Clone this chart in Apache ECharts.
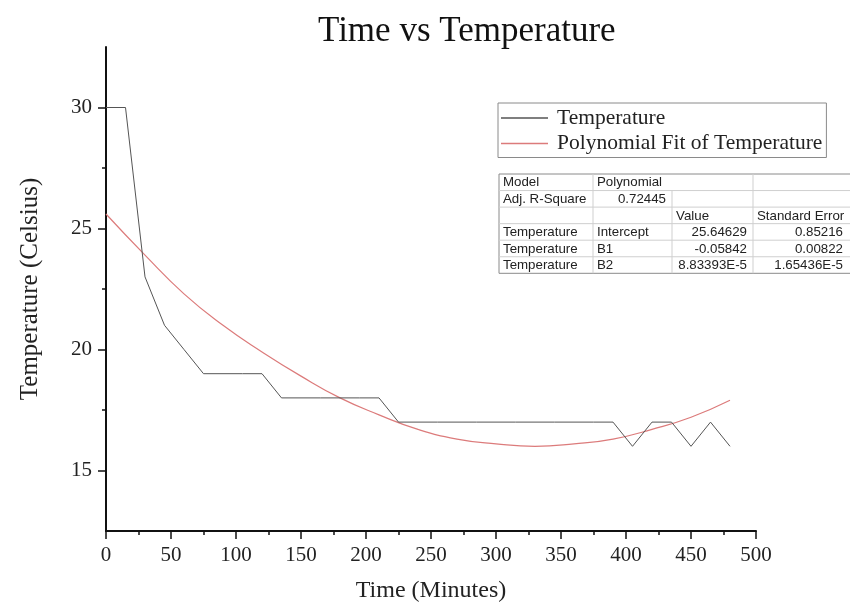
<!DOCTYPE html>
<html>
<head>
<meta charset="utf-8">
<script src="https://cdn.jsdelivr.net/npm/echarts@6/dist/echarts.min.js"></script>
<style>
  html, body { margin: 0; padding: 0; background: #fff; }
  #main { width: 850px; height: 609px; }
</style>
</head>
<body>
<div id="main"></div>
<script>
// measured data: time (minutes) and temperature (celsius)
var timeMin = [0, 15, 30, 45, 60, 75, 90, 105, 120, 135, 150, 165, 180, 195, 210, 225,
               240, 255, 270, 285, 300, 315, 330, 345, 360, 375, 390, 405, 420, 435, 450, 465, 480];
var tempC = [30, 30, 23, 21, 20, 19, 19, 19, 19, 18, 18, 18, 18, 18, 18, 17,
             17, 17, 17, 17, 17, 17, 17, 17, 17, 17, 17, 16, 17, 17, 16, 17, 16];

// polynomial fit curve
var fitTime = [0, 30, 60, 90, 120, 150, 180, 210, 240, 270, 300, 330, 360, 390, 420, 450, 480];
var fitTemp = [25.6, 23.9, 22.3, 21.0, 19.9, 18.9, 18.0, 17.3, 16.7, 16.3, 16.1, 16.0, 16.1, 16.3, 16.7, 17.2, 17.9];

var yMajor = [15, 20, 25, 30];
var yMinor = [17.5, 22.5, 27.5];

// fit statistics table
var tableRows = [
    ['Model', 'Polynomial', '', ''],
    ['Adj. R-Square', '0.72445', '', ''],
    ['', '', 'Value', 'Standard Error'],
    ['Temperature', 'Intercept', '25.64629', '0.85216'],
    ['Temperature', 'B1', '-0.05842', '0.00822'],
    ['Temperature', 'B2', '8.83393E-5', '1.65436E-5']
];

var serif = '"Liberation Serif", "Times New Roman", serif';
var sans = '"Liberation Sans", Arial, sans-serif';

function pairs(xs, ys) {
    var out = [];
    for (var i = 0; i < xs.length; i++) out.push([xs[i], ys[i]]);
    return out;
}

// table built from graphic elements
var colX = [499, 593, 672, 753, 849];
var rowTop = 174, rowH = 16.55;
function buildTable() {
    var els = [];
    var bottom = rowTop + rowH * tableRows.length;
    els.push({ type: 'rect', shape: { x: colX[0], y: rowTop, width: 860 - colX[0], height: bottom - rowTop },
               style: { fill: '#fff', stroke: '#8a8a8a', lineWidth: 1 }, z: 10 });
    for (var r = 1; r < tableRows.length; r++) {
        var y = rowTop + r * rowH;
        els.push({ type: 'line', shape: { x1: colX[0], y1: y, x2: 860, y2: y },
                   style: { stroke: '#cfcfcf', lineWidth: 1 }, z: 11 });
    }
    els.push({ type: 'line', shape: { x1: colX[1], y1: rowTop, x2: colX[1], y2: bottom }, style: { stroke: '#cfcfcf' }, z: 11 });
    els.push({ type: 'line', shape: { x1: colX[2], y1: rowTop + rowH, x2: colX[2], y2: bottom }, style: { stroke: '#cfcfcf' }, z: 11 });
    els.push({ type: 'line', shape: { x1: colX[3], y1: rowTop, x2: colX[3], y2: bottom }, style: { stroke: '#cfcfcf' }, z: 11 });
    for (var i = 0; i < tableRows.length; i++) {
        for (var c = 0; c < 4; c++) {
            var t = tableRows[i][c];
            if (!t) continue;
            var right = (i === 1 && c === 1) || (i >= 3 && c >= 2);
            els.push({
                type: 'text', z: 12,
                x: right ? colX[c + 1] - 6 : colX[c] + 4,
                y: rowTop + i * rowH + rowH / 2 + 0.5,
                style: { text: t, font: '13.3px ' + sans, fill: '#222',
                         textAlign: right ? 'right' : 'left', textVerticalAlign: 'middle' }
            });
        }
    }
    return els;
}

var myChart = echarts.init(document.getElementById('main'));

var option = {
    backgroundColor: '#fff',
    animation: false,
    title: {
        text: 'Time vs Temperature',
        left: 313, top: 9,
        textStyle: { fontFamily: serif, fontSize: 35, fontWeight: 'normal', color: '#111' }
    },
    legend: {
        orient: 'vertical',
        left: 498, top: 103,
        padding: [4, 4, 3, 3],
        itemGap: 3.5,
        itemWidth: 47, itemHeight: 1.5,
        icon: 'rect',
        borderColor: '#8a8a8a', borderWidth: 1,
        textStyle: { fontFamily: serif, fontSize: 21.5, color: '#222', padding: [0, 0, 0, 4] },
        data: ['Temperature', 'Polynomial Fit of Temperature']
    },
    grid: { left: 106, right: 94, top: 47, bottom: 78, containLabel: false },
    xAxis: {
        type: 'value', min: 0, max: 500, interval: 50,
        name: 'Time (Minutes)', nameLocation: 'middle', nameGap: 48,
        nameTextStyle: { fontFamily: serif, fontSize: 24, color: '#222' },
        axisLine: { lineStyle: { color: '#111', width: 2 } },
        axisTick: { length: 8, lineStyle: { color: '#111', width: 1.5 } },
        minorTick: { show: true, splitNumber: 2, length: 4, lineStyle: { color: '#111', width: 1.5 } },
        axisLabel: { fontFamily: serif, fontSize: 21, color: '#222', margin: 14 },
        splitLine: { show: false }
    },
    yAxis: [{
        type: 'value', min: 12.5, max: 32.5,
        name: 'Temperature (Celsius)', nameLocation: 'middle', nameGap: 63,
        nameTextStyle: { fontFamily: serif, fontSize: 25, color: '#222' },
        axisLine: { lineStyle: { color: '#111', width: 2 } },
        axisTick: { length: 8, customValues: yMajor, lineStyle: { color: '#111', width: 1.5 } },
        axisLabel: { customValues: yMajor, fontFamily: serif, fontSize: 21, color: '#222', margin: 14 },
        splitLine: { show: false }
    }, {
        type: 'value', min: 12.5, max: 32.5, position: 'left', offset: 0,
        axisLine: { show: false },
        axisTick: { show: true, length: 4, customValues: yMinor, lineStyle: { color: '#111', width: 1.5 } },
        axisLabel: { show: false },
        splitLine: { show: false }
    }],
    series: [{
        name: 'Temperature',
        type: 'line',
        symbol: 'none',
        color: '#555',
        lineStyle: { color: '#555', width: 1 },
        data: pairs(timeMin, tempC),
        z: 3
    }, {
        name: 'Polynomial Fit of Temperature',
        type: 'line',
        symbol: 'none',
        smooth: 0.5,
        color: '#dc7b7b',
        lineStyle: { color: '#dc7b7b', width: 1.2 },
        data: pairs(fitTime, fitTemp),
        z: 2
    }],
    graphic: buildTable()
};

myChart.setOption(option);
</script>
</body>
</html>
